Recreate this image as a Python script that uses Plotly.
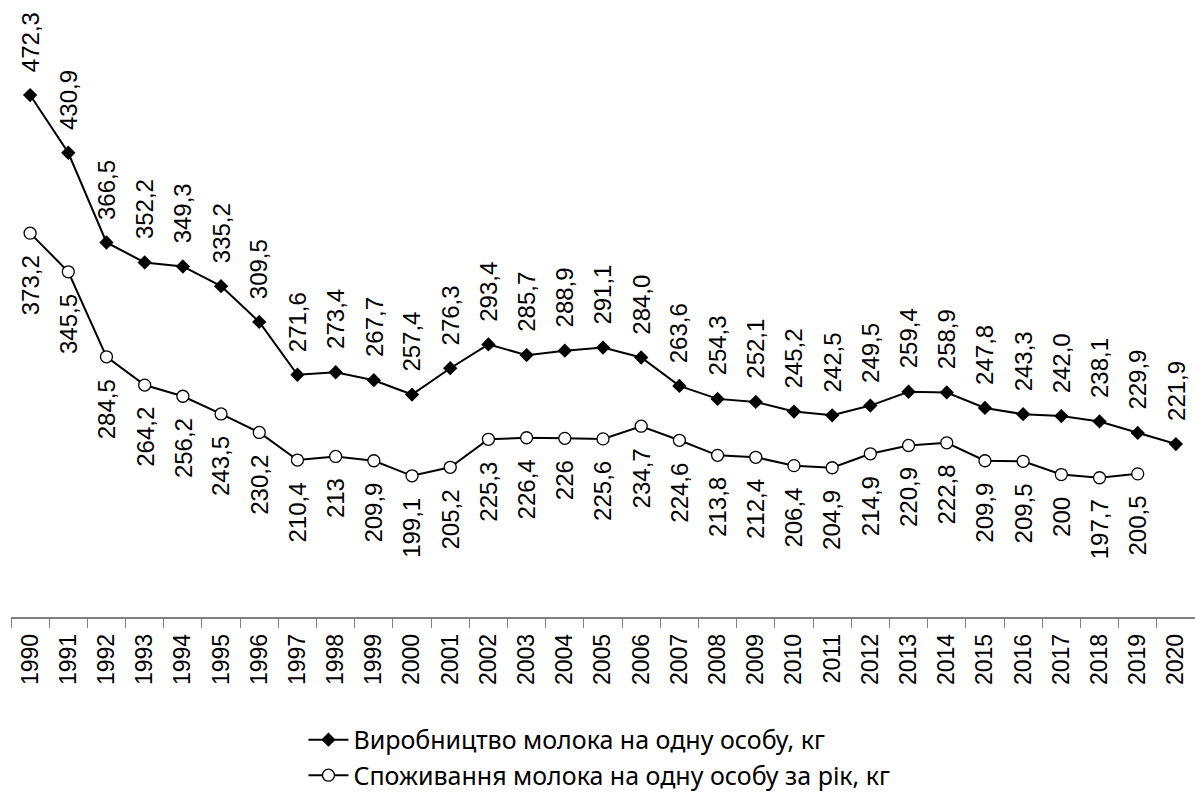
import plotly.graph_objects as go

years = [str(y) for y in range(1990, 2021)]
production = [472.3, 430.9, 366.5, 352.2, 349.3, 335.2, 309.5, 271.6, 273.4, 267.7,
              257.4, 276.3, 293.4, 285.7, 288.9, 291.1, 284.0, 263.6, 254.3, 252.1,
              245.2, 242.5, 249.5, 259.4, 258.9, 247.8, 243.3, 242.0, 238.1, 229.9, 221.9]
consumption = [373.2, 345.5, 284.5, 264.2, 256.2, 243.5, 230.2, 210.4, 213, 209.9,
               199.1, 205.2, 225.3, 226.4, 226, 225.6, 234.7, 224.6, 213.8, 212.4,
               206.4, 204.9, 214.9, 220.9, 222.8, 209.9, 209.5, 200, 197.7, 200.5, None]

name_prod = "Виробництво молока на одну особу, кг"
name_cons = "Споживання молока на одну особу за рік, кг"

fig = go.Figure()
fig.add_trace(go.Scatter(
    x=years, y=production, mode="lines+markers", name=name_prod,
    line=dict(color="black", width=2),
    marker=dict(symbol="diamond", size=11, color="black"),
))
fig.add_trace(go.Scatter(
    x=years, y=consumption, mode="lines+markers", name=name_cons,
    line=dict(color="black", width=2),
    marker=dict(symbol="circle", size=12, color="white", line=dict(color="black", width=1.3)),
))

label_font = dict(family="Liberation Sans, Arial, sans-serif", size=24, color="black")
annotations = []
for i, v in enumerate(production):
    annotations.append(dict(x=i, y=v, xref="x", yref="y", text=f"{v:.1f}".replace(".", ","),
                            textangle=-90, showarrow=False, yanchor="bottom", xanchor="center",
                            yshift=21, font=label_font))
for i, v in enumerate(consumption):
    if v is None:
        continue
    annotations.append(dict(x=i, y=v, xref="x", yref="y", text=("%g" % v).replace(".", ","),
                            textangle=-90, showarrow=False, yanchor="top", xanchor="center",
                            yshift=-20, font=label_font))

fig.update_layout(
    width=1195, height=795,
    margin=dict(l=11, r=0, t=0, b=178, autoexpand=False),
    paper_bgcolor="white", plot_bgcolor="white",
    annotations=annotations,
    showlegend=True,
    legend=dict(x=0.247, xanchor="left", y=-0.162, yanchor="top",
                font=dict(family="Noto Sans, sans-serif", size=25, color="black"),
                bgcolor="rgba(0,0,0,0)", tracegroupgap=0, itemwidth=40),
    xaxis=dict(type="category", showgrid=False, zeroline=False, showline=True, automargin=False,
               linecolor="#808080", linewidth=1.5, ticks="outside", tickcolor="#808080",
               ticklen=9, tickwidth=1.2, tickson="boundaries", tickangle=-90,
               ticklabelstandoff=6,
               tickfont=dict(family="Liberation Sans, Arial, sans-serif", size=23, color="black"),
               range=[-0.5, 30.5]),
    yaxis=dict(visible=False, range=[97.8, 540.5], showgrid=False, zeroline=False, automargin=False),
)

fig.write_html("out.html", config={"displayModeBar": False},
               post_script="document.body.style.margin='0';document.body.style.overflow='hidden';")
